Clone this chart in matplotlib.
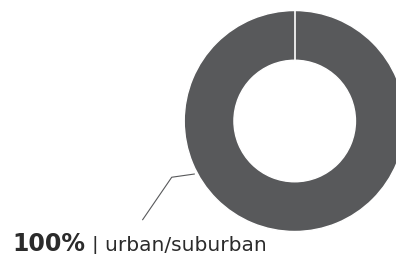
import matplotlib.pyplot as plt

# data
labels = ['urban/suburban']
values = [100]
pct_labels = ['100%']

ring_color = '#58595b'
text_color = '#2b2b2b'

fig = plt.figure(figsize=(3.96, 2.55), dpi=100)
ax = fig.add_axes([0.4652, 0.0882, 0.558, 0.8667])
ax.pie(values, radius=1, startangle=90, counterclock=False,
       colors=[ring_color],
       wedgeprops=dict(width=0.45, edgecolor='white', linewidth=1.0))
ax.set_xlim(-1, 1)
ax.set_ylim(-1, 1)
ax.set_aspect('equal')
ax.axis('off')

# seam at the start angle
ax.plot([0, 0], [0.54, 1.01], color='white', lw=1.2)

# leader line
ax.plot([-0.909, -1.113, -1.376], [-0.480, -0.509, -0.893],
        color=ring_color, lw=0.8, clip_on=False)

# label
fig.canvas.draw()
r = fig.canvas.get_renderer()
t1 = fig.text(12.7 / 396, 4.0 / 255, pct_labels[0], fontsize=17,
              family='DejaVu Sans', fontweight='bold', color=text_color,
              va='baseline')
bb = t1.get_window_extent(renderer=r)
fig.text((bb.x1 + 6) / 396, 4.0 / 255, '| ' + labels[0], fontsize=14.5,
         family='DejaVu Sans', color=text_color, va='baseline')

fig.savefig('out.png', dpi=100)
